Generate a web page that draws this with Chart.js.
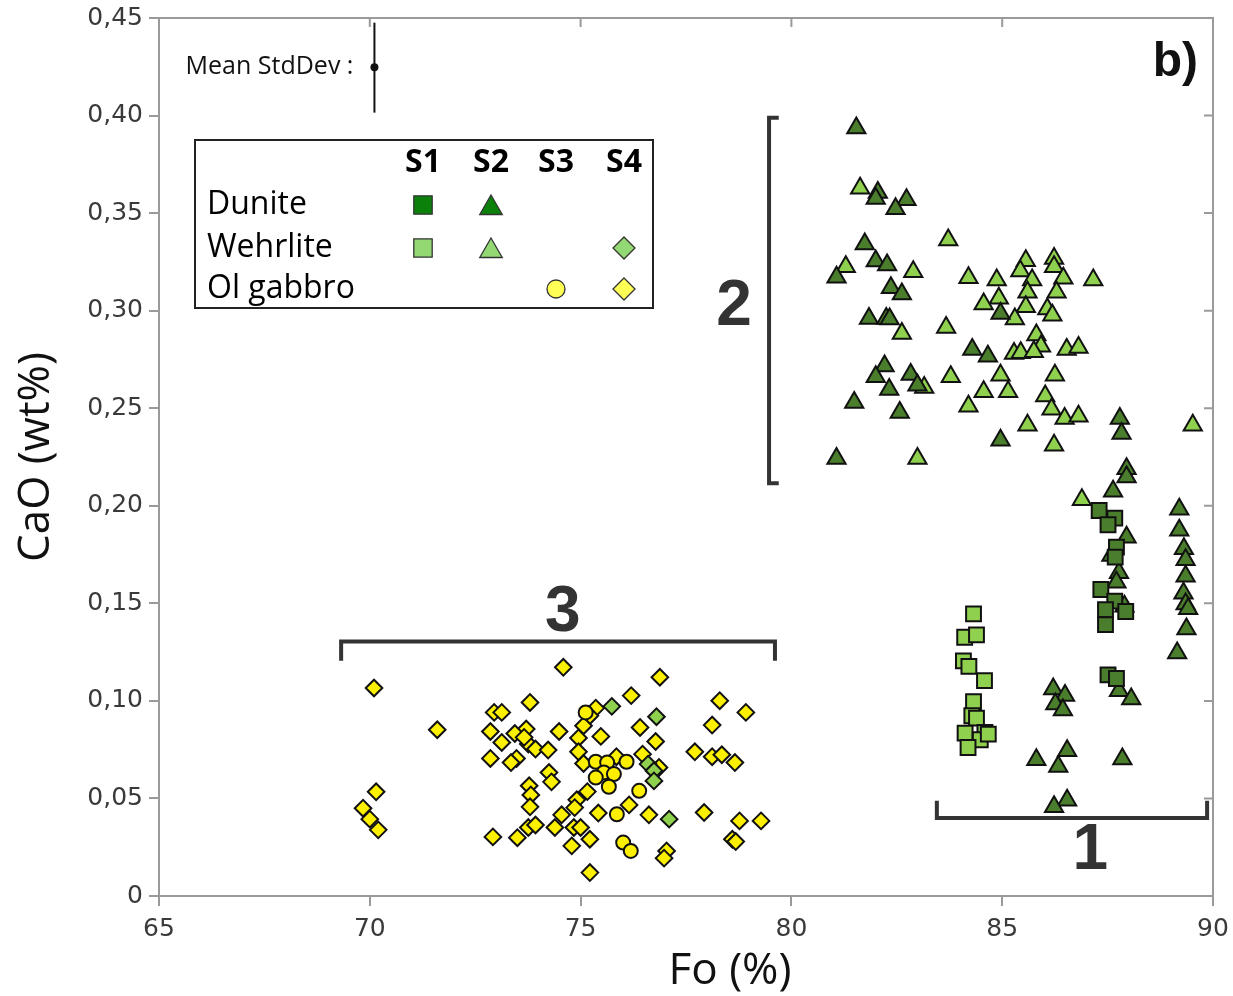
<!DOCTYPE html>
<html>
<head>
<meta charset="utf-8">
<title>CaO vs Fo</title>
<script src="https://cdn.jsdelivr.net/npm/chart.js@4.4.1/dist/chart.umd.min.js"></script>
<style>
  html, body { margin: 0; padding: 0; background: #fff; }
  #wrap { width: 1233px; height: 996px; }
</style>
</head>
<body>
<div id="wrap"><canvas id="plot" width="1233" height="996"></canvas></div>
<script>
// Data: [Fo (%), CaO (wt%)]
const s1Dunite = [
  [87.30, 0.1976], [87.67, 0.1937], [87.51, 0.1903], [87.71, 0.1788], [87.68, 0.1737],
  [87.34, 0.1571], [87.67, 0.1511], [87.93, 0.1458], [87.45, 0.1467], [87.45, 0.1391],
  [87.51, 0.1133], [87.71, 0.1115]
];
const s1Wehrlite = [
  [84.32, 0.1446], [84.11, 0.1326], [84.39, 0.1338], [84.08, 0.1205], [84.21, 0.1177],
  [84.58, 0.1104], [84.32, 0.0996], [84.28, 0.0924], [84.39, 0.0912], [84.59, 0.0838],
  [84.12, 0.0835], [84.48, 0.0801], [84.19, 0.0761], [84.67, 0.0830]
];
const s2Dunite = [
  [81.54, 0.3936], [82.05, 0.3605], [82.00, 0.3575], [82.73, 0.3568], [82.47, 0.3522],
  [81.74, 0.3342], [82.00, 0.3255], [82.27, 0.3234], [81.07, 0.3171], [82.36, 0.3118],
  [82.62, 0.3085], [84.96, 0.2986], [81.84, 0.2960], [82.25, 0.2960], [82.33, 0.2957],
  [84.29, 0.2801], [84.66, 0.2767], [82.21, 0.2716], [82.00, 0.2661], [82.83, 0.2673],
  [82.99, 0.2618], [82.32, 0.2596], [81.49, 0.2529], [82.57, 0.2478], [87.79, 0.2447],
  [87.83, 0.2370], [84.96, 0.2336], [81.07, 0.2242], [87.95, 0.2190], [87.95, 0.2147],
  [87.63, 0.2075], [87.95, 0.1839], [87.59, 0.1745], [87.77, 0.1657], [87.71, 0.1608],
  [87.90, 0.1485], [89.20, 0.1982], [89.20, 0.1874], [89.31, 0.1780], [89.35, 0.1723],
  [89.35, 0.1639], [89.30, 0.1552], [89.35, 0.1497], [89.41, 0.1472], [89.37, 0.1369],
  [89.15, 0.1246], [87.77, 0.1052], [88.06, 0.1010], [86.21, 0.1061], [86.49, 0.1027],
  [86.26, 0.0984], [86.44, 0.0953], [86.54, 0.0744], [85.81, 0.0698], [86.33, 0.0664],
  [87.85, 0.0702], [86.54, 0.0491], [86.23, 0.0457]
];
const s2Wehrlite = [
  [81.63, 0.3628], [83.72, 0.3362], [81.29, 0.3225], [82.89, 0.3200], [84.20, 0.3169],
  [84.87, 0.3157], [85.56, 0.3256], [86.23, 0.3268], [86.23, 0.3225], [85.43, 0.3203],
  [85.71, 0.3157], [86.45, 0.3166], [87.16, 0.3157], [84.92, 0.3063], [85.60, 0.3094],
  [86.29, 0.3094], [84.56, 0.3034], [85.56, 0.3020], [86.07, 0.3008], [86.19, 0.2977],
  [85.30, 0.2957], [82.62, 0.2883], [83.67, 0.2914], [85.81, 0.2875], [85.92, 0.2818],
  [85.28, 0.2781], [85.44, 0.2784], [85.75, 0.2789], [86.53, 0.2801], [86.81, 0.2811],
  [83.15, 0.2606], [83.78, 0.2661], [84.96, 0.2669], [86.25, 0.2669], [84.56, 0.2584],
  [85.14, 0.2584], [86.02, 0.2563], [84.20, 0.2510], [86.17, 0.2495], [86.48, 0.2447],
  [86.81, 0.2459], [85.60, 0.2413], [89.52, 0.2413], [86.23, 0.2310], [82.99, 0.2242],
  [86.89, 0.2031]
];
const s3OlGabbro = [
  [75.12, 0.0941], [75.36, 0.0688], [76.09, 0.0688], [75.63, 0.0684], [75.55, 0.0633],
  [75.79, 0.0625], [75.36, 0.0607], [75.67, 0.0560], [76.39, 0.0539], [75.86, 0.0419],
  [76.01, 0.0274], [76.19, 0.0231]
];
const s4Wehrlite = [
  [75.74, 0.0972], [76.80, 0.0919], [76.60, 0.0676], [76.74, 0.0642], [76.74, 0.0590],
  [77.10, 0.0394]
];
const s4OlGabbro = [
  [74.59, 0.1172], [76.88, 0.1121], [70.10, 0.1066], [76.20, 0.1027], [73.80, 0.0992],
  [78.30, 0.1001], [78.92, 0.0941], [72.95, 0.0941], [73.13, 0.0941], [75.36, 0.0963],
  [75.22, 0.0924], [71.60, 0.0852], [72.86, 0.0843], [73.71, 0.0856], [73.44, 0.0833],
  [74.49, 0.0843], [75.07, 0.0873], [76.41, 0.0864], [78.12, 0.0876], [74.95, 0.0810],
  [75.48, 0.0818], [73.13, 0.0787], [73.76, 0.0779], [73.93, 0.0753], [74.23, 0.0748],
  [76.78, 0.0792], [74.95, 0.0739], [72.86, 0.0705], [73.48, 0.0705], [77.71, 0.0739],
  [78.12, 0.0714], [78.35, 0.0724], [78.66, 0.0684], [75.07, 0.0679], [75.85, 0.0714],
  [76.47, 0.0727], [76.86, 0.0659], [74.25, 0.0633], [74.31, 0.0585], [73.78, 0.0565],
  [73.82, 0.0518], [73.80, 0.0457], [75.16, 0.0535], [74.91, 0.0493], [74.86, 0.0453],
  [74.55, 0.0416], [75.42, 0.0425], [76.15, 0.0467], [76.62, 0.0416], [77.93, 0.0428],
  [78.77, 0.0385], [79.28, 0.0385], [78.60, 0.0291], [78.68, 0.0279], [70.15, 0.0534],
  [69.84, 0.0450], [70.00, 0.0394], [70.20, 0.0339], [72.92, 0.0303], [73.50, 0.0299],
  [73.76, 0.0351], [73.93, 0.0364], [74.39, 0.0351], [74.84, 0.0351], [75.00, 0.0351],
  [75.22, 0.0291], [74.79, 0.0257], [77.04, 0.0231], [76.98, 0.0194], [75.22, 0.0120],
  [73.66, 0.0813], [73.35, 0.0684]
];

const xTicks = [65, 70, 75, 80, 85, 90];
const yTicks = [0, 0.05, 0.10, 0.15, 0.20, 0.25, 0.30, 0.35, 0.40, 0.45];
const yTickLabels = ['0', '0,05', '0,10', '0,15', '0,20', '0,25', '0,30', '0,35', '0,40', '0,45'];

// annotations in data units
const stdDev = { fo: 70.11, lo: 0.4015, mid: 0.4247, hi: 0.4476 };
const groupBrackets = [
  { label: '2', kind: 'v', at: 79.47, from: 0.2115, to: 0.3989, arm: 79.70, tx: 78.64, ty: 0.3033 },
  { label: '3', kind: 'h', at: 0.1304, from: 69.32, to: 79.61, arm: 0.1206, tx: 74.58, ty: 0.1465 },
  { label: '1', kind: 'h', at: 0.0400, from: 83.45, to: 89.86, arm: 0.0488, tx: 87.09, ty: 0.0246 }
];

const DARK = '#4a7d2c', LIGHT = '#8fd14f', YELLOW = '#fcf000';
const toXY = arr => arr.map(p => ({ x: p[0], y: p[1] }));

function markerPath(ctx, style, x, y, r) {
  ctx.beginPath();
  if (style === 'rect') {
    const s = r * Math.SQRT1_2;
    ctx.rect(x - s, y - s, 2 * s, 2 * s);
  } else if (style === 'triangle') {
    ctx.moveTo(x, y - r);
    ctx.lineTo(x + r * Math.sin(2 * Math.PI / 3), y + r / 2);
    ctx.lineTo(x - r * Math.sin(2 * Math.PI / 3), y + r / 2);
    ctx.closePath();
  } else if (style === 'rectRot') {
    ctx.moveTo(x, y - r); ctx.lineTo(x + r, y); ctx.lineTo(x, y + r); ctx.lineTo(x - r, y);
    ctx.closePath();
  } else {
    ctx.arc(x, y, r, 0, Math.PI * 2);
  }
}

const overlay = {
  id: 'overlay',
  afterDraw(chart) {
    const { ctx, chartArea: a, scales: { x, y } } = chart;
    ctx.save();

    // top and right frame with inward ticks
    ctx.strokeStyle = '#9a9a9a';
    ctx.lineWidth = 2;
    ctx.beginPath();
    ctx.moveTo(a.left, a.top); ctx.lineTo(a.right, a.top); ctx.lineTo(a.right, a.bottom);
    xTicks.forEach(v => { const px = x.getPixelForValue(v); ctx.moveTo(px, a.top); ctx.lineTo(px, a.top + 9); });
    yTicks.forEach(v => { const py = y.getPixelForValue(v); ctx.moveTo(a.right, py); ctx.lineTo(a.right - 9, py); });
    ctx.stroke();

    // mean std dev bar
    const ex = x.getPixelForValue(stdDev.fo);
    ctx.strokeStyle = '#111';
    ctx.lineWidth = 2;
    ctx.beginPath();
    ctx.moveTo(ex, y.getPixelForValue(stdDev.hi));
    ctx.lineTo(ex, y.getPixelForValue(stdDev.lo));
    ctx.stroke();
    ctx.fillStyle = '#111';
    ctx.beginPath();
    ctx.arc(ex, y.getPixelForValue(stdDev.mid), 4, 0, Math.PI * 2);
    ctx.fill();
    ctx.font = '25px "Open Sans"';
    ctx.textAlign = 'right';
    ctx.textBaseline = 'middle';
    ctx.fillText('Mean StdDev :', ex - 21, y.getPixelForValue(stdDev.mid));

    // group brackets
    ctx.strokeStyle = '#333';
    ctx.fillStyle = '#333';
    ctx.lineWidth = 4;
    ctx.lineJoin = 'miter';
    groupBrackets.forEach(b => {
      ctx.beginPath();
      if (b.kind === 'v') {
        const px = x.getPixelForValue(b.at), arm = x.getPixelForValue(b.arm);
        const p1 = y.getPixelForValue(b.from), p2 = y.getPixelForValue(b.to);
        ctx.moveTo(arm, p1); ctx.lineTo(px, p1); ctx.lineTo(px, p2); ctx.lineTo(arm, p2);
      } else {
        const py = y.getPixelForValue(b.at), arm = y.getPixelForValue(b.arm);
        const p1 = x.getPixelForValue(b.from), p2 = x.getPixelForValue(b.to);
        ctx.moveTo(p1, arm); ctx.lineTo(p1, py); ctx.lineTo(p2, py); ctx.lineTo(p2, arm);
      }
      ctx.stroke();
      ctx.font = 'bold 64px "Liberation Sans"';
      ctx.textAlign = 'center';
      ctx.textBaseline = 'middle';
      ctx.fillText(b.label, x.getPixelForValue(b.tx), y.getPixelForValue(b.ty) + 3);
    });

    // panel letter
    ctx.fillStyle = '#111';
    ctx.font = 'bold 48px "Liberation Sans"';
    ctx.textAlign = 'right';
    ctx.textBaseline = 'alphabetic';
    ctx.fillText('b)', a.right - 15, a.top + 58);

    // x axis title
    ctx.font = '44px "Open Sans"';
    ctx.textAlign = 'center';
    ctx.textBaseline = 'middle';
    ctx.fillText('Fo (%)', a.left + 571, a.bottom + 75);

    // legend box
    const lx = a.left + 36, ly = a.top + 122;
    ctx.fillStyle = '#fff';
    ctx.fillRect(lx, ly, 458, 168);
    ctx.strokeStyle = '#222';
    ctx.lineWidth = 2;
    ctx.strokeRect(lx, ly, 458, 168);
    const cols = [lx + 228, lx + 296, lx + 361, lx + 429];
    const rows = [ly + 65, ly + 108, ly + 149];
    ctx.fillStyle = '#000';
    ctx.font = 'bold 32px "Open Sans"';
    ctx.textAlign = 'center';
    ['S1', 'S2', 'S3', 'S4'].forEach((t, i) => ctx.fillText(t, cols[i], ly + 23));
    ctx.font = '32px "Open Sans"';
    ctx.textAlign = 'left';
    ['Dunite', 'Wehrlite', 'Ol gabbro'].forEach((t, i) => ctx.fillText(t, lx + 12, rows[i]));
    const keys = [
      [0, 0, 'rect', 13, '#0b810b'], [1, 0, 'triangle', 13, '#0b810b'],
      [0, 1, 'rect', 13, '#93d873'], [1, 1, 'triangle', 13, '#93d873'], [3, 1, 'rectRot', 11, '#93d873'],
      [2, 2, 'circle', 9, '#ffff55'], [3, 2, 'rectRot', 11, '#ffff55']
    ];
    ctx.strokeStyle = '#333';
    ctx.lineWidth = 1.3;
    keys.forEach(k => {
      const cy = rows[k[1]] + (k[2] === 'triangle' ? 3 : 0);
      markerPath(ctx, k[2], cols[k[0]], cy, k[3]);
      ctx.fillStyle = k[4];
      ctx.fill();
      ctx.stroke();
    });

    ctx.restore();
  }
};

function series(data, style, radius, color) {
  return {
    data: toXY(data),
    pointStyle: style,
    radius: radius,
    backgroundColor: color,
    borderColor: '#111',
    borderWidth: 2,
    showLine: false
  };
}

new Chart(document.getElementById('plot').getContext('2d'), {
  type: 'scatter',
  data: {
    datasets: [
      series(s1Dunite, 'rect', 10.5, DARK),
      series(s1Wehrlite, 'rect', 10.5, LIGHT),
      series(s2Dunite, 'triangle', 10.5, DARK),
      series(s2Wehrlite, 'triangle', 10.5, LIGHT),
      series(s4Wehrlite, 'rectRot', 8.3, LIGHT),
      series(s3OlGabbro, 'circle', 7, YELLOW),
      series(s4OlGabbro, 'rectRot', 8.3, YELLOW)
    ]
  },
  options: {
    responsive: false,
    animation: false,
    devicePixelRatio: 1,
    layout: { padding: { top: 18, right: 20, left: 0, bottom: 0 } },
    plugins: { legend: { display: false }, tooltip: { enabled: false } },
    scales: {
      x: {
        type: 'linear',
        min: 65, max: 90,
        afterBuildTicks: s => { s.ticks = xTicks.map(v => ({ value: v })); },
        afterFit: s => { s.height = 100; s.paddingLeft = 0; s.paddingRight = 0; },
        border: { color: '#9a9a9a', width: 2 },
        grid: { drawOnChartArea: false, color: '#9a9a9a', lineWidth: 2, tickLength: 10 },
        ticks: { color: '#3a3a3a', padding: 8, font: { family: 'DejaVu Sans', size: 25 } }
      },
      y: {
        type: 'linear',
        min: 0, max: 0.45,
        afterBuildTicks: s => { s.ticks = yTicks.map(v => ({ value: v })); },
        afterFit: s => { s.width = 159; s.paddingTop = 0; s.paddingBottom = 0; },
        border: { color: '#9a9a9a', width: 2 },
        grid: { drawOnChartArea: false, color: '#9a9a9a', lineWidth: 2, tickLength: 10 },
        ticks: {
          color: '#3a3a3a', padding: 6, font: { family: 'DejaVu Sans', size: 25 },
          callback: (v, i) => yTickLabels[i]
        },
        title: {
          display: true, text: 'CaO (wt%)', color: '#111',
          font: { family: 'Open Sans', size: 44 }, padding: { top: 10, bottom: 0 }
        }
      }
    }
  },
  plugins: [overlay]
});
</script>
</body>
</html>
